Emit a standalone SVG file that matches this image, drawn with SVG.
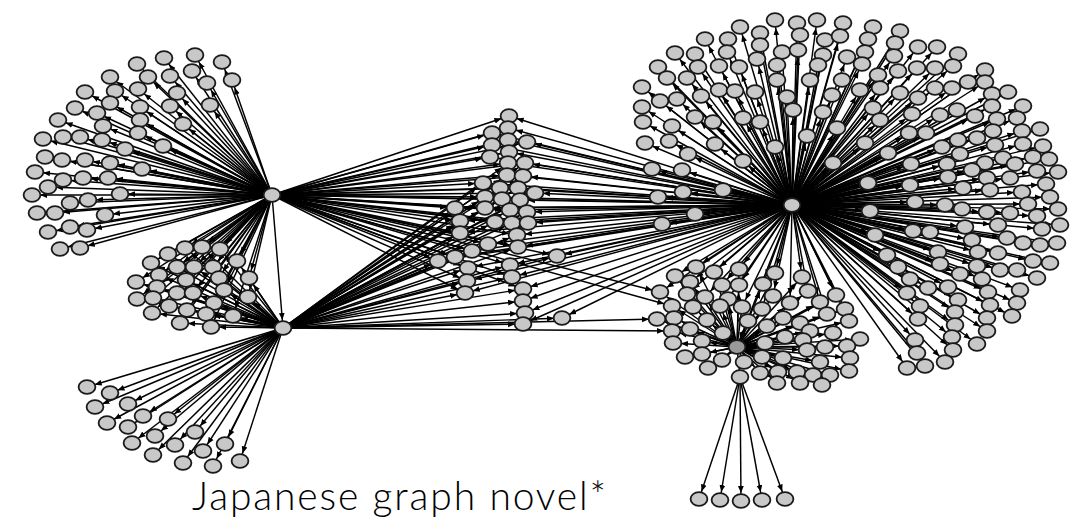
<svg xmlns="http://www.w3.org/2000/svg" xmlns:xlink="http://www.w3.org/1999/xlink" width="1073" height="527" viewBox="0 0 1073 527">
<style>
.e path{fill:none;stroke:#000;stroke-width:1.45;marker-end:url(#ah)}
.lbl{font-family:Lato,"Open Sans","Liberation Sans",sans-serif;font-weight:300;font-size:39px;fill:#000}
</style>
<defs>
<marker id="ah" markerUnits="userSpaceOnUse" markerWidth="17" markerHeight="7" refX="15" refY="3.5" orient="auto"><path d="M0,0.6 L7,3.5 L0,6.4z" fill="#000"/></marker>
<ellipse id="nd" rx="8.4" ry="6.9" fill="#c8c8c8" stroke="#1a1a1a" stroke-width="1.8"/>
<ellipse id="hd" rx="8.4" ry="6.9" fill="#9a9a9a" stroke="#1a1a1a" stroke-width="1.8"/>
</defs>
<rect width="1073" height="527" fill="#fff"/>
<g id="connectors" class="e">
<!-- hub A to top-left fan -->
<path d="M272 195L164 58"/><path d="M272 195L195 55"/><path d="M272 195L222 62"/><path d="M272 195L137 64"/><path d="M272 195L110 77"/><path d="M272 195L148 77"/><path d="M272 195L170 76"/><path d="M272 195L192 71"/><path d="M272 195L232 80"/><path d="M272 195L85 92"/><path d="M272 195L115 91"/><path d="M272 195L138 89"/><path d="M272 195L177 93"/><path d="M272 195L207 83"/><path d="M272 195L75 108"/><path d="M272 195L97 113"/><path d="M272 195L110 103"/><path d="M272 195L140 107"/><path d="M272 195L170 106"/><path d="M272 195L210 105"/><path d="M272 195L58 120"/><path d="M272 195L103 126"/><path d="M272 195L140 120"/><path d="M272 195L183 124"/><path d="M272 195L43 139"/><path d="M272 195L63 137"/><path d="M272 195L80 137"/><path d="M272 195L102 140"/><path d="M272 195L125 149"/><path d="M272 195L138 133"/><path d="M272 195L163 146"/><path d="M272 195L45 157"/><path d="M272 195L62 160"/><path d="M272 195L85 160"/><path d="M272 195L110 163"/><path d="M272 195L142 169"/><path d="M272 195L35 172"/><path d="M272 195L63 180"/><path d="M272 195L83 178"/><path d="M272 195L108 178"/><path d="M272 195L48 187"/><path d="M272 195L120 194"/><path d="M272 195L32 195"/><path d="M272 195L88 200"/><path d="M272 195L70 203"/><path d="M272 195L37 213"/><path d="M272 195L55 213"/><path d="M272 195L105 215"/><path d="M272 195L48 232"/><path d="M272 195L70 227"/><path d="M272 195L87 230"/><path d="M272 195L60 249"/><path d="M272 195L80 248"/>
<!-- hub A to hub B -->
<path d="M272 195L283 328"/>
<!-- hub A and hub B to left cluster -->
<path d="M272 195L185 248"/><path d="M272 195L202 247"/><path d="M272 195L220 249"/><path d="M272 195L168 254"/><path d="M272 195L151 263"/><path d="M272 195L177 267"/><path d="M272 195L194 267"/><path d="M272 195L213 267"/><path d="M272 195L237 261"/><path d="M272 195L159 275"/><path d="M272 195L186 280"/><path d="M272 195L219 278"/><path d="M272 195L249 278"/><path d="M272 195L136 282"/><path d="M272 195L157 287"/><path d="M272 195L177 293"/><path d="M272 195L193 293"/><path d="M272 195L224 290"/><path d="M272 195L248 297"/><path d="M272 195L137 299"/><path d="M272 195L153 298"/><path d="M272 195L169 306"/><path d="M272 195L187 310"/><path d="M272 195L214 303"/><path d="M272 195L152 313"/><path d="M272 195L206 314"/><path d="M272 195L233 316"/><path d="M272 195L180 323"/><path d="M272 195L211 327"/>
<path d="M283 328L185 248"/><path d="M283 328L202 247"/><path d="M283 328L220 249"/><path d="M283 328L168 254"/><path d="M283 328L151 263"/><path d="M283 328L177 267"/><path d="M283 328L194 267"/><path d="M283 328L213 267"/><path d="M283 328L237 261"/><path d="M283 328L159 275"/><path d="M283 328L186 280"/><path d="M283 328L219 278"/><path d="M283 328L249 278"/><path d="M283 328L136 282"/><path d="M283 328L157 287"/><path d="M283 328L177 293"/><path d="M283 328L193 293"/><path d="M283 328L224 290"/><path d="M283 328L248 297"/><path d="M283 328L137 299"/><path d="M283 328L153 298"/><path d="M283 328L169 306"/><path d="M283 328L187 310"/><path d="M283 328L214 303"/><path d="M283 328L152 313"/><path d="M283 328L206 314"/><path d="M283 328L233 316"/><path d="M283 328L180 323"/><path d="M283 328L211 327"/>
<!-- hub B to lower fan -->
<path d="M283 328L87 387"/><path d="M283 328L110 393"/><path d="M283 328L95 407"/><path d="M283 328L128 404"/><path d="M283 328L107 423"/><path d="M283 328L143 416"/><path d="M283 328L128 427"/><path d="M283 328L168 419"/><path d="M283 328L132 443"/><path d="M283 328L155 436"/><path d="M283 328L195 432"/><path d="M283 328L175 445"/><path d="M283 328L153 455"/><path d="M283 328L203 451"/><path d="M283 328L225 444"/><path d="M283 328L183 463"/><path d="M283 328L213 466"/><path d="M283 328L240 461"/>
<!-- hub A to middle column -->
<path d="M272 195L509 116"/><path d="M272 195L508 128"/><path d="M272 195L492 133"/><path d="M272 195L508 140"/><path d="M272 195L527 142"/><path d="M272 195L492 145"/><path d="M272 195L509 152"/><path d="M272 195L490 157"/><path d="M272 195L508 163"/><path d="M272 195L525 163"/><path d="M272 195L507 175"/><path d="M272 195L523 176"/><path d="M272 195L483 183"/><path d="M272 195L500 188"/><path d="M272 195L518 188"/><path d="M272 195L535 193"/><path d="M272 195L485 197"/><path d="M272 195L502 199"/><path d="M272 195L520 200"/><path d="M272 195L455 208"/><path d="M272 195L485 208"/><path d="M272 195L510 210"/><path d="M272 195L527 212"/><path d="M272 195L460 221"/><path d="M272 195L495 222"/><path d="M272 195L512 223"/><path d="M272 195L528 223"/><path d="M272 195L460 233"/><path d="M272 195L517 235"/><path d="M272 195L488 244"/><path d="M272 195L518 247"/><path d="M272 195L472 251"/><path d="M272 195L557 256"/><path d="M272 195L455 257"/><path d="M272 195L438 261"/><path d="M272 195L468 268"/><path d="M272 195L510 265"/><path d="M272 195L512 277"/><path d="M272 195L467 281"/><path d="M272 195L465 293"/><path d="M272 195L523 289"/><path d="M272 195L660 292"/><path d="M272 195L672 306"/>
<!-- hub B to middle column -->
<path d="M283 328L508 163"/><path d="M283 328L525 163"/><path d="M283 328L507 175"/><path d="M283 328L523 176"/><path d="M283 328L483 183"/><path d="M283 328L500 188"/><path d="M283 328L518 188"/><path d="M283 328L535 193"/><path d="M283 328L485 197"/><path d="M283 328L502 199"/><path d="M283 328L520 200"/><path d="M283 328L455 208"/><path d="M283 328L485 208"/><path d="M283 328L510 210"/><path d="M283 328L527 212"/><path d="M283 328L460 221"/><path d="M283 328L495 222"/><path d="M283 328L512 223"/><path d="M283 328L528 223"/><path d="M283 328L460 233"/><path d="M283 328L517 235"/><path d="M283 328L488 244"/><path d="M283 328L518 247"/><path d="M283 328L472 251"/><path d="M283 328L557 256"/><path d="M283 328L455 257"/><path d="M283 328L438 261"/><path d="M283 328L468 268"/><path d="M283 328L510 265"/><path d="M283 328L512 277"/><path d="M283 328L467 281"/><path d="M283 328L465 293"/><path d="M283 328L523 289"/><path d="M283 328L523 301"/><path d="M283 328L525 313"/><path d="M283 328L523 324"/><path d="M283 328L562 318"/><path d="M283 328L657 319"/><path d="M283 328L672 331"/>
<!-- hub R to middle column -->
<path d="M792 205L509 116"/><path d="M792 205L508 128"/><path d="M792 205L492 133"/><path d="M792 205L508 140"/><path d="M792 205L527 142"/><path d="M792 205L492 145"/><path d="M792 205L509 152"/><path d="M792 205L490 157"/><path d="M792 205L508 163"/><path d="M792 205L525 163"/><path d="M792 205L507 175"/><path d="M792 205L523 176"/><path d="M792 205L483 183"/><path d="M792 205L500 188"/><path d="M792 205L518 188"/><path d="M792 205L535 193"/><path d="M792 205L485 197"/><path d="M792 205L502 199"/><path d="M792 205L520 200"/><path d="M792 205L455 208"/><path d="M792 205L485 208"/><path d="M792 205L510 210"/><path d="M792 205L527 212"/><path d="M792 205L460 221"/><path d="M792 205L495 222"/><path d="M792 205L512 223"/><path d="M792 205L528 223"/><path d="M792 205L460 233"/><path d="M792 205L517 235"/><path d="M792 205L488 244"/><path d="M792 205L518 247"/><path d="M792 205L472 251"/><path d="M792 205L557 256"/><path d="M792 205L455 257"/><path d="M792 205L438 261"/><path d="M792 205L468 268"/><path d="M792 205L510 265"/><path d="M792 205L512 277"/><path d="M792 205L467 281"/><path d="M792 205L465 293"/><path d="M792 205L523 289"/><path d="M792 205L523 301"/><path d="M792 205L525 313"/><path d="M792 205L523 324"/><path d="M792 205L562 318"/>
<!-- hub R to right cluster -->
<path d="M792 205L775 20"/><path d="M792 205L797 23"/><path d="M792 205L817 20"/><path d="M792 205L843 23"/><path d="M792 205L740 27"/><path d="M792 205L760 33"/><path d="M792 205L800 35"/><path d="M792 205L825 40"/><path d="M792 205L840 36"/><path d="M792 205L705 39"/><path d="M792 205L728 39"/><path d="M792 205L760 45"/><path d="M792 205L782 52"/><path d="M792 205L798 50"/><path d="M792 205L823 55"/><path d="M792 205L675 53"/><path d="M792 205L695 54"/><path d="M792 205L727 52"/><path d="M792 205L757 59"/><path d="M792 205L658 67"/><path d="M792 205L698 67"/><path d="M792 205L719 66"/><path d="M792 205L739 67"/><path d="M792 205L777 65"/><path d="M792 205L818 65"/><path d="M792 205L667 78"/><path d="M792 205L687 78"/><path d="M792 205L777 80"/><path d="M792 205L810 80"/><path d="M792 205L842 80"/><path d="M792 205L642 87"/><path d="M792 205L719 90"/><path d="M792 205L735 91"/><path d="M792 205L755 92"/><path d="M792 205L660 101"/><path d="M792 205L677 99"/><path d="M792 205L701 96"/><path d="M792 205L787 97"/><path d="M792 205L832 95"/><path d="M792 205L642 107"/><path d="M792 205L793 110"/><path d="M792 205L823 112"/><path d="M792 205L695 117"/><path d="M792 205L713 122"/><path d="M792 205L743 118"/><path d="M792 205L760 122"/><path d="M792 205L643 122"/><path d="M792 205L672 126"/><path d="M792 205L837 128"/><path d="M792 205L645 143"/><path d="M792 205L669 141"/><path d="M792 205L715 144"/><path d="M792 205L807 136"/><path d="M792 205L688 154"/><path d="M792 205L775 147"/><path d="M792 205L743 161"/><path d="M792 205L833 163"/><path d="M792 205L652 169"/><path d="M792 205L682 170"/><path d="M792 205L683 192"/><path d="M792 205L723 190"/><path d="M792 205L658 197"/><path d="M792 205L695 214"/><path d="M792 205L662 224"/>
<path d="M792 205L873 27"/><path d="M792 205L900 31"/><path d="M792 205L868 39"/><path d="M792 205L895 43"/><path d="M792 205L918 47"/><path d="M792 205L937 47"/><path d="M792 205L865 52"/><path d="M792 205L894 56"/><path d="M792 205L958 54"/><path d="M792 205L847 57"/><path d="M792 205L862 64"/><path d="M792 205L898 71"/><path d="M792 205L917 68"/><path d="M792 205L935 68"/><path d="M792 205L953 66"/><path d="M792 205L985 70"/><path d="M792 205L878 75"/><path d="M792 205L860 90"/><path d="M792 205L880 88"/><path d="M792 205L900 93"/><path d="M792 205L918 98"/><path d="M792 205L935 88"/><path d="M792 205L952 88"/><path d="M792 205L968 82"/><path d="M792 205L985 82"/><path d="M792 205L992 94"/><path d="M792 205L1008 92"/><path d="M792 205L873 108"/><path d="M792 205L912 114"/><path d="M792 205L940 115"/><path d="M792 205L957 110"/><path d="M792 205L975 116"/><path d="M792 205L992 106"/><path d="M792 205L1023 106"/><path d="M792 205L880 120"/><path d="M792 205L997 119"/><path d="M792 205L1017 118"/><path d="M792 205L909 133"/><path d="M792 205L926 133"/><path d="M792 205L958 140"/><path d="M792 205L977 138"/><path d="M792 205L993 131"/><path d="M792 205L1022 131"/><path d="M792 205L1040 129"/><path d="M792 205L865 143"/><path d="M792 205L942 147"/><path d="M792 205L995 145"/><path d="M792 205L1023 144"/><path d="M792 205L1043 146"/><path d="M792 205L888 153"/><path d="M792 205L960 154"/><path d="M792 205L1003 158"/><path d="M792 205L1033 157"/><path d="M792 205L1049 159"/><path d="M792 205L911 164"/><path d="M792 205L947 164"/><path d="M792 205L985 163"/><path d="M792 205L1015 164"/><path d="M792 205L1058 172"/><path d="M792 205L948 177"/><path d="M792 205L972 170"/><path d="M792 205L987 178"/><path d="M792 205L1010 178"/><path d="M792 205L1037 171"/><path d="M792 205L868 183"/><path d="M792 205L910 185"/><path d="M792 205L963 188"/><path d="M792 205L990 190"/><path d="M792 205L1022 192"/><path d="M792 205L1046 184"/><path d="M792 205L1050 197"/>
<path d="M792 205L915 202"/><path d="M792 205L945 205"/><path d="M792 205L962 209"/><path d="M792 205L987 212"/><path d="M792 205L1010 213"/><path d="M792 205L1028 204"/><path d="M792 205L1058 209"/><path d="M792 205L1037 216"/><path d="M792 205L870 211"/><path d="M792 205L965 227"/><path d="M792 205L998 225"/><path d="M792 205L1042 229"/><path d="M792 205L1060 225"/><path d="M792 205L913 231"/><path d="M792 205L930 232"/><path d="M792 205L875 235"/><path d="M792 205L972 240"/><path d="M792 205L1007 238"/><path d="M792 205L1023 243"/><path d="M792 205L1040 245"/><path d="M792 205L1057 243"/><path d="M792 205L938 252"/><path d="M792 205L978 252"/><path d="M792 205L998 253"/><path d="M792 205L887 255"/><path d="M792 205L1033 261"/><path d="M792 205L1050 263"/><path d="M792 205L898 267"/><path d="M792 205L940 264"/><path d="M792 205L977 266"/><path d="M792 205L1000 270"/><path d="M792 205L1017 270"/><path d="M792 205L910 279"/><path d="M792 205L960 274"/><path d="M792 205L982 279"/><path d="M792 205L1037 278"/><path d="M792 205L928 288"/><path d="M792 205L948 287"/><path d="M792 205L988 292"/><path d="M792 205L1020 290"/><path d="M792 205L907 293"/><path d="M792 205L958 300"/><path d="M792 205L990 305"/><path d="M792 205L1017 303"/><path d="M792 205L920 306"/><path d="M792 205L955 312"/><path d="M792 205L987 318"/><path d="M792 205L1012 316"/><path d="M792 205L918 319"/><path d="M792 205L955 325"/><path d="M792 205L987 331"/><path d="M792 205L915 340"/><path d="M792 205L952 337"/><path d="M792 205L977 344"/><path d="M792 205L917 353"/><path d="M792 205L953 350"/><path d="M792 205L945 362"/><path d="M792 205L907 368"/><path d="M792 205L925 366"/>
<!-- hub R to lower cluster -->
<path d="M792 205L737 347"/><path d="M792 205L696 267"/><path d="M792 205L714 272"/><path d="M792 205L739 269"/><path d="M792 205L775 273"/><path d="M792 205L675 276"/><path d="M792 205L690 282"/><path d="M792 205L722 285"/><path d="M792 205L739 285"/><path d="M792 205L763 284"/><path d="M792 205L802 277"/><path d="M792 205L660 292"/><path d="M792 205L687 294"/><path d="M792 205L705 297"/><path d="M792 205L728 299"/><path d="M792 205L773 296"/><path d="M792 205L808 291"/><path d="M792 205L836 295"/><path d="M792 205L790 303"/><path d="M792 205L820 302"/><path d="M792 205L845 309"/><path d="M792 205L762 309"/><path d="M792 205L742 307"/><path d="M792 205L827 314"/><path d="M792 205L849 321"/>
<!-- lower hub to lower cluster -->
<path d="M737 347L696 267"/><path d="M737 347L714 272"/><path d="M737 347L739 269"/><path d="M737 347L775 273"/><path d="M737 347L675 276"/><path d="M737 347L690 282"/><path d="M737 347L722 285"/><path d="M737 347L739 285"/><path d="M737 347L763 284"/><path d="M737 347L802 277"/><path d="M737 347L660 292"/><path d="M737 347L687 294"/><path d="M737 347L705 297"/><path d="M737 347L728 299"/><path d="M737 347L773 296"/><path d="M737 347L808 291"/><path d="M737 347L836 295"/><path d="M737 347L672 306"/><path d="M737 347L693 307"/><path d="M737 347L720 306"/><path d="M737 347L742 307"/><path d="M737 347L762 309"/><path d="M737 347L790 303"/><path d="M737 347L820 302"/><path d="M737 347L845 309"/><path d="M737 347L657 319"/><path d="M737 347L674 318"/><path d="M737 347L707 320"/><path d="M737 347L748 321"/><path d="M737 347L767 326"/><path d="M737 347L783 318"/><path d="M737 347L800 323"/><path d="M737 347L827 314"/><path d="M737 347L849 321"/><path d="M737 347L672 331"/><path d="M737 347L690 329"/><path d="M737 347L723 333"/><path d="M737 347L785 337"/><path d="M737 347L810 331"/><path d="M737 347L833 333"/><path d="M737 347L860 339"/><path d="M737 347L673 343"/><path d="M737 347L702 341"/><path d="M737 347L765 343"/><path d="M737 347L803 340"/><path d="M737 347L825 347"/><path d="M737 347L847 346"/><path d="M737 347L685 357"/><path d="M737 347L702 354"/><path d="M737 347L722 360"/><path d="M737 347L744 362"/><path d="M737 347L762 357"/><path d="M737 347L783 358"/><path d="M737 347L807 350"/><path d="M737 347L820 362"/><path d="M737 347L850 358"/><path d="M737 347L708 368"/><path d="M737 347L760 373"/><path d="M737 347L778 372"/><path d="M737 347L797 372"/><path d="M737 347L813 375"/><path d="M737 347L830 375"/><path d="M737 347L849 371"/><path d="M737 347L777 383"/><path d="M737 347L800 383"/><path d="M737 347L822 385"/><path d="M737 347L740 377"/>
<!-- bottom branch -->
<path d="M740 377L699 499"/><path d="M740 377L720 500"/><path d="M740 377L741 501"/><path d="M740 377L762 500"/><path d="M740 377L785 499"/>
</g>
<g id="nodes">
<g id="hubs">
<use id="hubA" href="#nd" x="272" y="195"/>
<use id="hubB" href="#nd" x="283" y="328"/>
<use id="hubR" href="#nd" x="792" y="205"/>
<use id="hubL" href="#hd" x="737" y="347"/>
<use id="hubP" href="#nd" x="740" y="377"/>
</g>
<g id="fanA">
<use id="a1" href="#nd" x="164" y="58"/><use id="a2" href="#nd" x="195" y="55"/><use id="a3" href="#nd" x="222" y="62"/><use id="a4" href="#nd" x="137" y="64"/><use id="a5" href="#nd" x="110" y="77"/><use id="a6" href="#nd" x="148" y="77"/><use id="a7" href="#nd" x="170" y="76"/><use id="a8" href="#nd" x="192" y="71"/><use id="a9" href="#nd" x="232" y="80"/><use id="a10" href="#nd" x="85" y="92"/><use id="a11" href="#nd" x="115" y="91"/><use id="a12" href="#nd" x="138" y="89"/><use id="a13" href="#nd" x="177" y="93"/><use id="a14" href="#nd" x="207" y="83"/><use id="a15" href="#nd" x="75" y="108"/><use id="a16" href="#nd" x="97" y="113"/><use id="a17" href="#nd" x="110" y="103"/><use id="a18" href="#nd" x="140" y="107"/><use id="a19" href="#nd" x="170" y="106"/><use id="a20" href="#nd" x="210" y="105"/><use id="a21" href="#nd" x="58" y="120"/><use id="a22" href="#nd" x="103" y="126"/><use id="a23" href="#nd" x="140" y="120"/><use id="a24" href="#nd" x="183" y="124"/><use id="a25" href="#nd" x="43" y="139"/><use id="a26" href="#nd" x="63" y="137"/><use id="a27" href="#nd" x="80" y="137"/><use id="a28" href="#nd" x="102" y="140"/><use id="a29" href="#nd" x="125" y="149"/><use id="a30" href="#nd" x="138" y="133"/><use id="a31" href="#nd" x="163" y="146"/><use id="a32" href="#nd" x="45" y="157"/><use id="a33" href="#nd" x="62" y="160"/><use id="a34" href="#nd" x="85" y="160"/><use id="a35" href="#nd" x="110" y="163"/><use id="a36" href="#nd" x="142" y="169"/><use id="a37" href="#nd" x="35" y="172"/><use id="a38" href="#nd" x="63" y="180"/><use id="a39" href="#nd" x="83" y="178"/><use id="a40" href="#nd" x="108" y="178"/><use id="a41" href="#nd" x="48" y="187"/><use id="a42" href="#nd" x="120" y="194"/><use id="a43" href="#nd" x="32" y="195"/><use id="a44" href="#nd" x="88" y="200"/><use id="a45" href="#nd" x="70" y="203"/><use id="a46" href="#nd" x="37" y="213"/><use id="a47" href="#nd" x="55" y="213"/><use id="a48" href="#nd" x="105" y="215"/><use id="a49" href="#nd" x="48" y="232"/><use id="a50" href="#nd" x="70" y="227"/><use id="a51" href="#nd" x="87" y="230"/><use id="a52" href="#nd" x="60" y="249"/><use id="a53" href="#nd" x="80" y="248"/>
</g>
<g id="clusterB">
<use id="b1" href="#nd" x="185" y="248"/><use id="b2" href="#nd" x="202" y="247"/><use id="b3" href="#nd" x="220" y="249"/><use id="b4" href="#nd" x="168" y="254"/><use id="b5" href="#nd" x="151" y="263"/><use id="b6" href="#nd" x="177" y="267"/><use id="b7" href="#nd" x="194" y="267"/><use id="b8" href="#nd" x="213" y="267"/><use id="b9" href="#nd" x="237" y="261"/><use id="b10" href="#nd" x="159" y="275"/><use id="b11" href="#nd" x="186" y="280"/><use id="b12" href="#nd" x="219" y="278"/><use id="b13" href="#nd" x="249" y="278"/><use id="b14" href="#nd" x="136" y="282"/><use id="b15" href="#nd" x="157" y="287"/><use id="b16" href="#nd" x="177" y="293"/><use id="b17" href="#nd" x="193" y="293"/><use id="b18" href="#nd" x="224" y="290"/><use id="b19" href="#nd" x="248" y="297"/><use id="b20" href="#nd" x="137" y="299"/><use id="b21" href="#nd" x="153" y="298"/><use id="b22" href="#nd" x="169" y="306"/><use id="b23" href="#nd" x="187" y="310"/><use id="b24" href="#nd" x="214" y="303"/><use id="b25" href="#nd" x="152" y="313"/><use id="b26" href="#nd" x="206" y="314"/><use id="b27" href="#nd" x="233" y="316"/><use id="b28" href="#nd" x="180" y="323"/><use id="b29" href="#nd" x="211" y="327"/>
</g>
<g id="fanB">
<use id="f1" href="#nd" x="87" y="387"/><use id="f2" href="#nd" x="110" y="393"/><use id="f3" href="#nd" x="95" y="407"/><use id="f4" href="#nd" x="128" y="404"/><use id="f5" href="#nd" x="107" y="423"/><use id="f6" href="#nd" x="143" y="416"/><use id="f7" href="#nd" x="128" y="427"/><use id="f8" href="#nd" x="168" y="419"/><use id="f9" href="#nd" x="132" y="443"/><use id="f10" href="#nd" x="155" y="436"/><use id="f11" href="#nd" x="195" y="432"/><use id="f12" href="#nd" x="175" y="445"/><use id="f13" href="#nd" x="153" y="455"/><use id="f14" href="#nd" x="203" y="451"/><use id="f15" href="#nd" x="225" y="444"/><use id="f16" href="#nd" x="183" y="463"/><use id="f17" href="#nd" x="213" y="466"/><use id="f18" href="#nd" x="240" y="461"/>
</g>
<g id="middle">
<use id="m1" href="#nd" x="509" y="116"/><use id="m2" href="#nd" x="508" y="128"/><use id="m3" href="#nd" x="492" y="133"/><use id="m4" href="#nd" x="508" y="140"/><use id="m5" href="#nd" x="527" y="142"/><use id="m6" href="#nd" x="492" y="145"/><use id="m7" href="#nd" x="509" y="152"/><use id="m8" href="#nd" x="490" y="157"/><use id="m9" href="#nd" x="508" y="163"/><use id="m10" href="#nd" x="525" y="163"/><use id="m11" href="#nd" x="507" y="175"/><use id="m12" href="#nd" x="523" y="176"/><use id="m13" href="#nd" x="483" y="183"/><use id="m14" href="#nd" x="500" y="188"/><use id="m15" href="#nd" x="518" y="188"/><use id="m16" href="#nd" x="535" y="193"/><use id="m17" href="#nd" x="485" y="197"/><use id="m18" href="#nd" x="502" y="199"/><use id="m19" href="#nd" x="520" y="200"/><use id="m20" href="#nd" x="455" y="208"/><use id="m21" href="#nd" x="485" y="208"/><use id="m22" href="#nd" x="510" y="210"/><use id="m23" href="#nd" x="527" y="212"/><use id="m24" href="#nd" x="460" y="221"/><use id="m25" href="#nd" x="495" y="222"/><use id="m26" href="#nd" x="512" y="223"/><use id="m27" href="#nd" x="528" y="223"/><use id="m28" href="#nd" x="460" y="233"/><use id="m29" href="#nd" x="517" y="235"/><use id="m30" href="#nd" x="488" y="244"/><use id="m31" href="#nd" x="518" y="247"/><use id="m32" href="#nd" x="472" y="251"/><use id="m33" href="#nd" x="557" y="256"/><use id="m34" href="#nd" x="455" y="257"/><use id="m35" href="#nd" x="438" y="261"/><use id="m36" href="#nd" x="468" y="268"/><use id="m37" href="#nd" x="510" y="265"/><use id="m38" href="#nd" x="512" y="277"/><use id="m39" href="#nd" x="467" y="281"/><use id="m40" href="#nd" x="465" y="293"/><use id="m41" href="#nd" x="523" y="289"/><use id="m42" href="#nd" x="523" y="301"/><use id="m43" href="#nd" x="525" y="313"/><use id="m44" href="#nd" x="523" y="324"/><use id="m45" href="#nd" x="562" y="318"/>
</g>
<g id="fanR">
<use id="r1" href="#nd" x="775" y="20"/><use id="r2" href="#nd" x="797" y="23"/><use id="r3" href="#nd" x="817" y="20"/><use id="r4" href="#nd" x="843" y="23"/><use id="r5" href="#nd" x="740" y="27"/><use id="r6" href="#nd" x="760" y="33"/><use id="r7" href="#nd" x="800" y="35"/><use id="r8" href="#nd" x="825" y="40"/><use id="r9" href="#nd" x="840" y="36"/><use id="r10" href="#nd" x="705" y="39"/><use id="r11" href="#nd" x="728" y="39"/><use id="r12" href="#nd" x="760" y="45"/><use id="r13" href="#nd" x="782" y="52"/><use id="r14" href="#nd" x="798" y="50"/><use id="r15" href="#nd" x="823" y="55"/><use id="r16" href="#nd" x="675" y="53"/><use id="r17" href="#nd" x="695" y="54"/><use id="r18" href="#nd" x="727" y="52"/><use id="r19" href="#nd" x="757" y="59"/><use id="r20" href="#nd" x="658" y="67"/><use id="r21" href="#nd" x="698" y="67"/><use id="r22" href="#nd" x="719" y="66"/><use id="r23" href="#nd" x="739" y="67"/><use id="r24" href="#nd" x="777" y="65"/><use id="r25" href="#nd" x="818" y="65"/><use id="r26" href="#nd" x="667" y="78"/><use id="r27" href="#nd" x="687" y="78"/><use id="r28" href="#nd" x="777" y="80"/><use id="r29" href="#nd" x="810" y="80"/><use id="r30" href="#nd" x="842" y="80"/><use id="r31" href="#nd" x="642" y="87"/><use id="r32" href="#nd" x="719" y="90"/><use id="r33" href="#nd" x="735" y="91"/><use id="r34" href="#nd" x="755" y="92"/><use id="r35" href="#nd" x="660" y="101"/><use id="r36" href="#nd" x="677" y="99"/><use id="r37" href="#nd" x="701" y="96"/><use id="r38" href="#nd" x="787" y="97"/><use id="r39" href="#nd" x="832" y="95"/><use id="r40" href="#nd" x="642" y="107"/><use id="r41" href="#nd" x="793" y="110"/><use id="r42" href="#nd" x="823" y="112"/><use id="r43" href="#nd" x="695" y="117"/><use id="r44" href="#nd" x="713" y="122"/><use id="r45" href="#nd" x="743" y="118"/><use id="r46" href="#nd" x="760" y="122"/><use id="r47" href="#nd" x="643" y="122"/><use id="r48" href="#nd" x="672" y="126"/><use id="r49" href="#nd" x="837" y="128"/><use id="r50" href="#nd" x="645" y="143"/><use id="r51" href="#nd" x="669" y="141"/><use id="r52" href="#nd" x="715" y="144"/><use id="r53" href="#nd" x="807" y="136"/><use id="r54" href="#nd" x="688" y="154"/><use id="r55" href="#nd" x="775" y="147"/><use id="r56" href="#nd" x="743" y="161"/><use id="r57" href="#nd" x="833" y="163"/><use id="r58" href="#nd" x="652" y="169"/><use id="r59" href="#nd" x="682" y="170"/><use id="r60" href="#nd" x="683" y="192"/><use id="r61" href="#nd" x="723" y="190"/><use id="r62" href="#nd" x="658" y="197"/><use id="r63" href="#nd" x="695" y="214"/><use id="r64" href="#nd" x="662" y="224"/>
<use id="r65" href="#nd" x="873" y="27"/><use id="r66" href="#nd" x="900" y="31"/><use id="r67" href="#nd" x="868" y="39"/><use id="r68" href="#nd" x="895" y="43"/><use id="r69" href="#nd" x="918" y="47"/><use id="r70" href="#nd" x="937" y="47"/><use id="r71" href="#nd" x="865" y="52"/><use id="r72" href="#nd" x="894" y="56"/><use id="r73" href="#nd" x="958" y="54"/><use id="r74" href="#nd" x="847" y="57"/><use id="r75" href="#nd" x="862" y="64"/><use id="r76" href="#nd" x="898" y="71"/><use id="r77" href="#nd" x="917" y="68"/><use id="r78" href="#nd" x="935" y="68"/><use id="r79" href="#nd" x="953" y="66"/><use id="r80" href="#nd" x="985" y="70"/><use id="r81" href="#nd" x="878" y="75"/><use id="r82" href="#nd" x="860" y="90"/><use id="r83" href="#nd" x="880" y="88"/><use id="r84" href="#nd" x="900" y="93"/><use id="r85" href="#nd" x="918" y="98"/><use id="r86" href="#nd" x="935" y="88"/><use id="r87" href="#nd" x="952" y="88"/><use id="r88" href="#nd" x="968" y="82"/><use id="r89" href="#nd" x="985" y="82"/><use id="r90" href="#nd" x="992" y="94"/><use id="r91" href="#nd" x="1008" y="92"/><use id="r92" href="#nd" x="873" y="108"/><use id="r93" href="#nd" x="912" y="114"/><use id="r94" href="#nd" x="940" y="115"/><use id="r95" href="#nd" x="957" y="110"/><use id="r96" href="#nd" x="975" y="116"/><use id="r97" href="#nd" x="992" y="106"/><use id="r98" href="#nd" x="1023" y="106"/><use id="r99" href="#nd" x="880" y="120"/><use id="r100" href="#nd" x="997" y="119"/><use id="r101" href="#nd" x="1017" y="118"/><use id="r102" href="#nd" x="909" y="133"/><use id="r103" href="#nd" x="926" y="133"/><use id="r104" href="#nd" x="958" y="140"/><use id="r105" href="#nd" x="977" y="138"/><use id="r106" href="#nd" x="993" y="131"/><use id="r107" href="#nd" x="1022" y="131"/><use id="r108" href="#nd" x="1040" y="129"/><use id="r109" href="#nd" x="865" y="143"/><use id="r110" href="#nd" x="942" y="147"/><use id="r111" href="#nd" x="995" y="145"/><use id="r112" href="#nd" x="1023" y="144"/><use id="r113" href="#nd" x="1043" y="146"/><use id="r114" href="#nd" x="888" y="153"/><use id="r115" href="#nd" x="960" y="154"/><use id="r116" href="#nd" x="1003" y="158"/><use id="r117" href="#nd" x="1033" y="157"/><use id="r118" href="#nd" x="1049" y="159"/><use id="r119" href="#nd" x="911" y="164"/><use id="r120" href="#nd" x="947" y="164"/><use id="r121" href="#nd" x="985" y="163"/><use id="r122" href="#nd" x="1015" y="164"/><use id="r123" href="#nd" x="1058" y="172"/><use id="r124" href="#nd" x="948" y="177"/><use id="r125" href="#nd" x="972" y="170"/><use id="r126" href="#nd" x="987" y="178"/><use id="r127" href="#nd" x="1010" y="178"/><use id="r128" href="#nd" x="1037" y="171"/><use id="r129" href="#nd" x="868" y="183"/><use id="r130" href="#nd" x="910" y="185"/><use id="r131" href="#nd" x="963" y="188"/><use id="r132" href="#nd" x="990" y="190"/><use id="r133" href="#nd" x="1022" y="192"/><use id="r134" href="#nd" x="1046" y="184"/><use id="r135" href="#nd" x="1050" y="197"/>
<use id="r136" href="#nd" x="915" y="202"/><use id="r137" href="#nd" x="945" y="205"/><use id="r138" href="#nd" x="962" y="209"/><use id="r139" href="#nd" x="987" y="212"/><use id="r140" href="#nd" x="1010" y="213"/><use id="r141" href="#nd" x="1028" y="204"/><use id="r142" href="#nd" x="1058" y="209"/><use id="r143" href="#nd" x="1037" y="216"/><use id="r144" href="#nd" x="870" y="211"/><use id="r145" href="#nd" x="965" y="227"/><use id="r146" href="#nd" x="998" y="225"/><use id="r147" href="#nd" x="1042" y="229"/><use id="r148" href="#nd" x="1060" y="225"/><use id="r149" href="#nd" x="913" y="231"/><use id="r150" href="#nd" x="930" y="232"/><use id="r151" href="#nd" x="875" y="235"/><use id="r152" href="#nd" x="972" y="240"/><use id="r153" href="#nd" x="1007" y="238"/><use id="r154" href="#nd" x="1023" y="243"/><use id="r155" href="#nd" x="1040" y="245"/><use id="r156" href="#nd" x="1057" y="243"/><use id="r157" href="#nd" x="938" y="252"/><use id="r158" href="#nd" x="978" y="252"/><use id="r159" href="#nd" x="998" y="253"/><use id="r160" href="#nd" x="887" y="255"/><use id="r161" href="#nd" x="1033" y="261"/><use id="r162" href="#nd" x="1050" y="263"/><use id="r163" href="#nd" x="898" y="267"/><use id="r164" href="#nd" x="940" y="264"/><use id="r165" href="#nd" x="977" y="266"/><use id="r166" href="#nd" x="1000" y="270"/><use id="r167" href="#nd" x="1017" y="270"/><use id="r168" href="#nd" x="910" y="279"/><use id="r169" href="#nd" x="960" y="274"/><use id="r170" href="#nd" x="982" y="279"/><use id="r171" href="#nd" x="1037" y="278"/><use id="r172" href="#nd" x="928" y="288"/><use id="r173" href="#nd" x="948" y="287"/><use id="r174" href="#nd" x="988" y="292"/><use id="r175" href="#nd" x="1020" y="290"/><use id="r176" href="#nd" x="907" y="293"/><use id="r177" href="#nd" x="958" y="300"/><use id="r178" href="#nd" x="990" y="305"/><use id="r179" href="#nd" x="1017" y="303"/><use id="r180" href="#nd" x="920" y="306"/><use id="r181" href="#nd" x="955" y="312"/><use id="r182" href="#nd" x="987" y="318"/><use id="r183" href="#nd" x="1012" y="316"/><use id="r184" href="#nd" x="918" y="319"/><use id="r185" href="#nd" x="955" y="325"/><use id="r186" href="#nd" x="987" y="331"/><use id="r187" href="#nd" x="915" y="340"/><use id="r188" href="#nd" x="952" y="337"/><use id="r189" href="#nd" x="977" y="344"/><use id="r190" href="#nd" x="917" y="353"/><use id="r191" href="#nd" x="953" y="350"/><use id="r192" href="#nd" x="945" y="362"/><use id="r193" href="#nd" x="907" y="368"/><use id="r194" href="#nd" x="925" y="366"/>
</g>
<g id="clusterL">
<use id="l1" href="#nd" x="696" y="267"/><use id="l2" href="#nd" x="714" y="272"/><use id="l3" href="#nd" x="739" y="269"/><use id="l4" href="#nd" x="775" y="273"/><use id="l5" href="#nd" x="675" y="276"/><use id="l6" href="#nd" x="690" y="282"/><use id="l7" href="#nd" x="722" y="285"/><use id="l8" href="#nd" x="739" y="285"/><use id="l9" href="#nd" x="763" y="284"/><use id="l10" href="#nd" x="802" y="277"/><use id="l11" href="#nd" x="660" y="292"/><use id="l12" href="#nd" x="687" y="294"/><use id="l13" href="#nd" x="705" y="297"/><use id="l14" href="#nd" x="728" y="299"/><use id="l15" href="#nd" x="773" y="296"/><use id="l16" href="#nd" x="808" y="291"/><use id="l17" href="#nd" x="836" y="295"/><use id="l18" href="#nd" x="672" y="306"/><use id="l19" href="#nd" x="693" y="307"/><use id="l20" href="#nd" x="720" y="306"/><use id="l21" href="#nd" x="742" y="307"/><use id="l22" href="#nd" x="762" y="309"/><use id="l23" href="#nd" x="790" y="303"/><use id="l24" href="#nd" x="820" y="302"/><use id="l25" href="#nd" x="845" y="309"/><use id="l26" href="#nd" x="657" y="319"/><use id="l27" href="#nd" x="674" y="318"/><use id="l28" href="#nd" x="707" y="320"/><use id="l29" href="#nd" x="748" y="321"/><use id="l30" href="#nd" x="767" y="326"/><use id="l31" href="#nd" x="783" y="318"/><use id="l32" href="#nd" x="800" y="323"/><use id="l33" href="#nd" x="827" y="314"/><use id="l34" href="#nd" x="849" y="321"/><use id="l35" href="#nd" x="672" y="331"/><use id="l36" href="#nd" x="690" y="329"/><use id="l37" href="#nd" x="723" y="333"/><use id="l38" href="#nd" x="785" y="337"/><use id="l39" href="#nd" x="810" y="331"/><use id="l40" href="#nd" x="833" y="333"/><use id="l41" href="#nd" x="860" y="339"/><use id="l42" href="#nd" x="673" y="343"/><use id="l43" href="#nd" x="702" y="341"/><use id="l44" href="#nd" x="765" y="343"/><use id="l45" href="#nd" x="803" y="340"/><use id="l46" href="#nd" x="825" y="347"/><use id="l47" href="#nd" x="847" y="346"/><use id="l48" href="#nd" x="685" y="357"/><use id="l49" href="#nd" x="702" y="354"/><use id="l50" href="#nd" x="722" y="360"/><use id="l51" href="#nd" x="744" y="362"/><use id="l52" href="#nd" x="762" y="357"/><use id="l53" href="#nd" x="783" y="358"/><use id="l54" href="#nd" x="807" y="350"/><use id="l55" href="#nd" x="820" y="362"/><use id="l56" href="#nd" x="850" y="358"/><use id="l57" href="#nd" x="708" y="368"/><use id="l58" href="#nd" x="760" y="373"/><use id="l59" href="#nd" x="778" y="372"/><use id="l60" href="#nd" x="797" y="372"/><use id="l61" href="#nd" x="813" y="375"/><use id="l62" href="#nd" x="830" y="375"/><use id="l63" href="#nd" x="849" y="371"/><use id="l64" href="#nd" x="777" y="383"/><use id="l65" href="#nd" x="800" y="383"/><use id="l66" href="#nd" x="822" y="385"/>
</g>
<g id="bottom">
<use id="p1" href="#nd" x="699" y="499"/><use id="p2" href="#nd" x="720" y="500"/><use id="p3" href="#nd" x="741" y="501"/><use id="p4" href="#nd" x="762" y="500"/><use id="p5" href="#nd" x="785" y="499"/>
</g>
</g>
<text class="lbl" x="192" y="510" textLength="414" lengthAdjust="spacing">Japanese graph novel*</text>
</svg>
